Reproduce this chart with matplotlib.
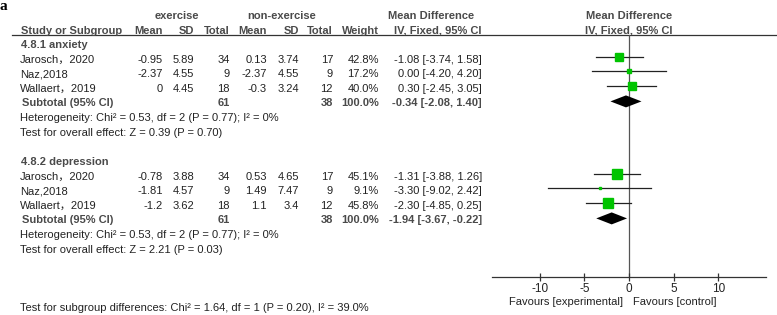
import matplotlib
matplotlib.use("Agg")
import matplotlib.pyplot as plt

plt.rcParams['font.family'] = ['Liberation Sans', 'Noto Sans CJK SC', 'DejaVu Sans']
plt.rcParams['font.size'] = 8

# ---- data ----
anx_studies = ['Jarosch，2020', 'Naz,2018', 'Wallaert，2019']
anx_ex_mean = [-0.95, -2.37, 0]
anx_ex_sd = [5.89, 4.55, 4.45]
anx_ex_n = [34, 9, 18]
anx_ct_mean = [0.13, -2.37, -0.3]
anx_ct_sd = [3.74, 4.55, 3.24]
anx_ct_n = [17, 9, 12]
anx_weight = [42.8, 17.2, 40.0]
anx_md = [-1.08, 0.00, 0.30]
anx_lo = [-3.74, -4.20, -2.45]
anx_hi = [1.58, 4.20, 3.05]
anx_pooled = [-0.34, -2.08, 1.40]
anx_het = 'Heterogeneity: Chi² = 0.53, df = 2 (P = 0.77); I² = 0%'
anx_z = 'Test for overall effect: Z = 0.39 (P = 0.70)'

dep_studies = ['Jarosch，2020', 'Naz,2018', 'Wallaert，2019']
dep_ex_mean = [-0.78, -1.81, -1.2]
dep_ex_sd = [3.88, 4.57, 3.62]
dep_ex_n = [34, 9, 18]
dep_ct_mean = [0.53, 1.49, 1.1]
dep_ct_sd = [4.65, 7.47, 3.4]
dep_ct_n = [17, 9, 12]
dep_weight = [45.1, 9.1, 45.8]
dep_md = [-1.31, -3.30, -2.30]
dep_lo = [-3.88, -9.02, -4.85]
dep_hi = [1.26, 2.42, 0.25]
dep_pooled = [-1.94, -3.67, -0.22]
dep_het = 'Heterogeneity: Chi² = 0.53, df = 2 (P = 0.77); I² = 0%'
dep_z = 'Test for overall effect: Z = 2.21 (P = 0.03)'

subgroup_test = 'Test for subgroup differences: Chi² = 1.64, df = 1 (P = 0.20), I² = 39.0%'
ticks = [-10, -5, 0, 5, 10]

TXT = '#222222'
BLD = '#4a4a4a'
GREEN = '#00c400'

fig = plt.figure(figsize=(7.77, 3.15), dpi=100)
ax = fig.add_axes([0, 0, 1, 1])
ax.set_xlim(0, 777)
ax.set_ylim(315, 0)
ax.axis('off')

# forest panel, y in the same pixel rows as the table
fx0, fx1, fytop, fybot = 492, 766, 35, 277
axf = fig.add_axes([fx0 / 777, (315 - fybot) / 315, (fx1 - fx0) / 777, (fybot - fytop) / 315])
axf.set_xlim(-15.35, 15.35)
axf.set_ylim(fybot, fytop)
axf.patch.set_alpha(0)
for s in ['top', 'left', 'right']:
    axf.spines[s].set_visible(False)
axf.spines['bottom'].set_color('#333333')
axf.spines['bottom'].set_linewidth(0.9)
axf.set_yticks([])
axf.set_xticks(ticks)
axf.set_xticklabels([str(t) for t in ticks])
axf.tick_params(axis='x', direction='inout', length=6, width=0.9, color='#333333',
                labelsize=8.5, labelcolor=TXT, pad=1)
axf.axvline(0, color='#555555', lw=0.9, zorder=1)

# column x positions (right edges)
col_name = 20
c_ex_mean, c_ex_sd, c_ex_n = 163, 194, 230
c_ct_mean, c_ct_sd, c_ct_n = 267, 299, 333
c_w, c_ci = 379, 482

# header
ax.text(0, 7, 'a', family='Liberation Serif', fontweight='bold', fontsize=11, va='center', ha='left', color='black')
ax.text(177, 16, 'exercise', color=BLD, fontweight='bold', ha='center', va='center')
ax.text(282, 16, 'non-exercise', color=BLD, fontweight='bold', ha='center', va='center')
ax.text(431, 16, 'Mean Difference', color=BLD, fontweight='bold', ha='center', va='center')
ax.text(629, 16, 'Mean Difference', color=BLD, fontweight='bold', ha='center', va='center')
hy = 30.5
ax.text(col_name + 1, hy, 'Study or Subgroup', color=BLD, fontweight='bold', ha='left', va='center')
for x, lab in [(c_ex_mean, 'Mean'), (c_ex_sd, 'SD'), (c_ex_n, 'Total'),
               (c_ct_mean, 'Mean'), (c_ct_sd, 'SD'), (c_ct_n, 'Total'), (c_w, 'Weight'),
               (c_ci, 'IV, Fixed, 95% CI')]:
    ax.text(x, hy, lab, color=BLD, fontweight='bold', ha='right', va='center')
ax.text(629, hy, 'IV, Fixed, 95% CI', color=BLD, fontweight='bold', ha='center', va='center')
ax.plot([12, 777], [35, 35], color='#333333', lw=0.9)

step = 14.6


def draw_group(y0, title, studies, exm, exs, exn, ctm, cts, ctn, w, md, lo, hi, pooled, het, z):
    ax.text(col_name + 1, y0, title, color=BLD, fontweight='bold', ha='left', va='center')
    for i in range(len(studies)):
        y = y0 + step * (i + 1)
        ax.text(col_name, y, studies[i], color=TXT, ha='left', va='center')
        ax.text(c_ex_mean, y, f'{exm[i]:g}', color=TXT, ha='right', va='center')
        ax.text(c_ex_sd, y, f'{exs[i]:g}', color=TXT, ha='right', va='center')
        ax.text(c_ex_n, y, f'{exn[i]}', color=TXT, ha='right', va='center')
        ax.text(c_ct_mean, y, f'{ctm[i]:g}', color=TXT, ha='right', va='center')
        ax.text(c_ct_sd, y, f'{cts[i]:g}', color=TXT, ha='right', va='center')
        ax.text(c_ct_n, y, f'{ctn[i]}', color=TXT, ha='right', va='center')
        ax.text(c_w, y, f'{w[i]:.1f}%', color=TXT, ha='right', va='center')
        ax.text(c_ci, y, f'{md[i]:.2f} [{lo[i]:.2f}, {hi[i]:.2f}]', color=TXT, ha='right', va='center')
        yf = y - 3
        axf.plot([lo[i], hi[i]], [yf, yf], color='#222222', lw=0.9, zorder=2)
        axf.plot(md[i], yf, marker='s', ms=0.135 * w[i] + 0.4, color=GREEN, mec=GREEN, zorder=3)
    ys = y0 + step * 4
    ax.text(col_name + 2, ys, 'Subtotal (95% CI)', color=BLD, fontweight='bold', ha='left', va='center')
    ax.text(c_ex_n, ys, f'{sum(exn)}', color=BLD, fontweight='bold', ha='right', va='center')
    ax.text(c_ct_n, ys, f'{sum(ctn)}', color=BLD, fontweight='bold', ha='right', va='center')
    ax.text(c_w, ys, '100.0%', color=BLD, fontweight='bold', ha='right', va='center')
    ax.text(c_ci, ys, f'{pooled[0]:.2f} [{pooled[1]:.2f}, {pooled[2]:.2f}]', color=BLD,
            fontweight='bold', ha='right', va='center')
    yd = ys - 2
    axf.fill([pooled[1], pooled[0], pooled[2], pooled[0]], [yd, yd - 6, yd, yd + 6],
             color='black', lw=0, zorder=3)
    ax.text(col_name, y0 + step * 5, het, color=TXT, ha='left', va='center')
    ax.text(col_name, y0 + step * 6, z, color=TXT, ha='left', va='center')


draw_group(45, '4.8.1 anxiety', anx_studies, anx_ex_mean, anx_ex_sd, anx_ex_n, anx_ct_mean,
           anx_ct_sd, anx_ct_n, anx_weight, anx_md, anx_lo, anx_hi, anx_pooled, anx_het, anx_z)
draw_group(162, '4.8.2 depression', dep_studies, dep_ex_mean, dep_ex_sd, dep_ex_n, dep_ct_mean,
           dep_ct_sd, dep_ct_n, dep_weight, dep_md, dep_lo, dep_hi, dep_pooled, dep_het, dep_z)

ax.text(col_name, 308, subgroup_test, color=TXT, ha='left', va='center')
ax.text(623, 302, 'Favours [experimental]', color=TXT, ha='right', va='center')
ax.text(633, 302, 'Favours [control]', color=TXT, ha='left', va='center')

fig.savefig('out.png', dpi=100)
